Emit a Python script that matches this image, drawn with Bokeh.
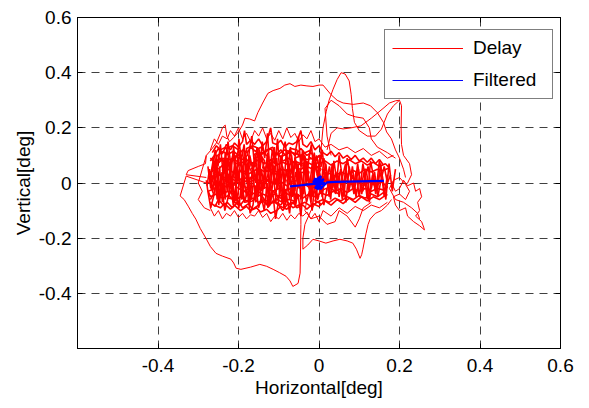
from bokeh.plotting import figure
from bokeh.models import (FixedTicker, LinearAxis, Legend, LegendItem, Range1d)
from bokeh.embed import file_html
from bokeh.resources import INLINE

# ---------------- data (degrees) ----------------
x_ticks = [-0.6, -0.4, -0.2, 0.0, 0.2, 0.4, 0.6]
x_tick_labels = ["", "-0.4", "-0.2", "0", "0.2", "0.4", "0.6"]
y_ticks = [-0.6, -0.4, -0.2, 0.0, 0.2, 0.4, 0.6]
y_tick_labels = ["", "-0.4", "-0.2", "0", "0.2", "0.4", "0.6"]

# Delay trace, pieces of one trajectory (dense core)
core_a = [(-0.27,0.02),(-0.262,0.09),(-0.255,-0.04),(-0.247,0.06),(-0.24,-0.07),(-0.233,0.11),(-0.224,0.0),(-0.219,0.08),(-0.21,-0.06),(-0.203,0.04),(-0.196,0.12),(-0.188,-0.03),(-0.181,0.07),(-0.172,-0.08),(-0.166,0.03),(-0.158,0.1),(-0.151,-0.05),(-0.143,0.05),(-0.136,-0.02),(-0.128,0.11),(-0.121,-0.07),(-0.113,0.02),(-0.105,0.09),(-0.098,-0.04),(-0.09,0.06),(-0.083,-0.08),(-0.075,0.04),(-0.068,0.1),(-0.06,-0.03),(-0.052,0.07),(-0.045,-0.06),(-0.037,0.03),(-0.03,0.08),(-0.022,-0.05),(-0.015,0.05),(-0.007,-0.02),(0.0,0.06),(0.008,-0.05),(0.016,0.04),(0.024,-0.03),(0.033,0.07),(0.041,-0.04),(0.05,0.03),(0.058,-0.06),(0.066,0.05),(0.075,-0.02),(0.083,0.06),(0.092,-0.05),(0.1,0.02),(0.109,-0.03),(0.117,0.05),(0.126,-0.04),(0.134,0.03),(0.143,-0.02),(0.151,0.04),(0.16,-0.01)]
core_b = [(0.17,0.03),(0.162,-0.05),(0.153,0.07),(0.145,-0.03),(0.137,0.01),(0.128,0.08),(0.12,-0.06),(0.112,0.04),(0.104,-0.02),(0.096,0.07),(0.087,-0.04),(0.079,0.02),(0.07,0.09),(0.062,-0.05),(0.054,0.05),(0.046,-0.01),(0.037,0.08),(0.029,-0.06),(0.021,0.03),(0.012,0.09),(0.004,-0.04),(-0.004,0.04),(-0.012,0.11),(-0.02,-0.07),(-0.027,0.02),(-0.035,0.1),(-0.043,-0.05),(-0.05,0.05),(-0.058,-0.08),(-0.066,0.08),(-0.073,0.0),(-0.081,0.12),(-0.089,-0.06),(-0.096,0.04),(-0.104,-0.02),(-0.111,0.13),(-0.119,0.01),(-0.127,-0.09),(-0.134,0.06),(-0.142,-0.03),(-0.149,0.12),(-0.157,-0.07),(-0.165,0.05),(-0.172,0.1),(-0.18,-0.05),(-0.187,0.02),(-0.195,0.09),(-0.203,-0.08),(-0.21,0.06),(-0.218,-0.02),(-0.225,0.1),(-0.233,-0.06),(-0.241,0.04),(-0.249,-0.08),(-0.256,0.07),(-0.264,-0.03),(-0.272,0.05),(-0.278,-0.01)]
core_c = [(-0.265,0.04),(-0.258,0.12),(-0.251,0.06),(-0.245,0.14),(-0.238,0.03),(-0.231,0.1),(-0.226,0.15),(-0.218,0.05),(-0.212,0.13),(-0.205,0.02),(-0.199,0.16),(-0.193,0.08),(-0.186,0.14),(-0.179,0.01),(-0.173,0.12),(-0.167,0.17),(-0.16,0.06),(-0.154,0.13),(-0.148,0.03),(-0.141,0.15),(-0.135,0.09),(-0.128,0.18),(-0.122,0.04),(-0.116,0.12),(-0.109,0.07),(-0.103,0.16),(-0.097,0.02),(-0.09,0.11),(-0.084,0.15),(-0.077,0.05),(-0.071,0.13),(-0.064,0.01),(-0.058,0.12),(-0.051,0.17),(-0.045,0.06),(-0.038,0.11),(-0.032,0.0),(-0.025,0.09),(-0.019,0.14),(-0.012,0.03),(-0.006,0.1),(0.001,0.05),(0.008,0.12),(0.015,0.02)]
core_d = [(0.02,-0.02),(0.012,-0.08),(0.005,-0.01),(-0.003,-0.06),(-0.01,0.01),(-0.017,-0.1),(-0.024,-0.03),(-0.031,-0.07),(-0.038,0.0),(-0.045,-0.12),(-0.052,-0.04),(-0.059,-0.08),(-0.066,-0.01),(-0.073,-0.11),(-0.08,-0.05),(-0.087,-0.09),(-0.094,0.01),(-0.101,-0.07),(-0.108,-0.13),(-0.115,-0.03),(-0.122,-0.08),(-0.129,0.0),(-0.136,-0.1),(-0.143,-0.05),(-0.15,-0.09),(-0.157,-0.01),(-0.164,-0.08),(-0.171,-0.11),(-0.178,-0.03),(-0.185,-0.07),(-0.192,0.01),(-0.199,-0.09),(-0.206,-0.04),(-0.213,-0.08),(-0.22,0.0),(-0.227,-0.06),(-0.234,-0.1),(-0.241,-0.02),(-0.248,-0.07),(-0.255,0.01),(-0.262,-0.05),(-0.269,-0.09),(-0.276,-0.03),(-0.28,0.01)]
core_e = [(-0.276,0.06),(-0.269,-0.02),(-0.262,0.03),(-0.255,0.1),(-0.248,-0.05),(-0.241,0.02),(-0.234,0.08),(-0.227,-0.03),(-0.22,0.05),(-0.213,0.11),(-0.206,-0.01),(-0.199,0.04),(-0.192,-0.06),(-0.185,0.09),(-0.178,0.03),(-0.171,-0.04),(-0.164,0.07),(-0.157,0.0),(-0.15,0.05),(-0.143,-0.07),(-0.136,0.02),(-0.129,0.08),(-0.122,-0.02),(-0.115,0.06),(-0.108,-0.05),(-0.101,0.03),(-0.094,0.1),(-0.087,-0.01),(-0.08,0.05),(-0.073,-0.06),(-0.066,0.02),(-0.059,0.09),(-0.052,0.0),(-0.045,0.04),(-0.038,-0.04),(-0.031,0.06),(-0.024,0.01),(-0.017,-0.05),(-0.01,0.07),(-0.003,0.02),(0.004,-0.03),(0.011,0.05),(0.018,0.0),(0.026,0.06),(0.034,-0.02),(0.042,0.04),(0.05,-0.05),(0.058,0.02),(0.066,0.07),(0.074,-0.03),(0.082,0.03),(0.09,-0.01),(0.098,0.05),(0.106,-0.04),(0.114,0.02),(0.122,0.06),(0.13,-0.02),(0.138,0.04),(0.146,-0.05),(0.154,0.01),(0.162,0.06),(0.17,0.0),(0.178,0.03)]
core_f = [(0.19,0.05),(0.182,-0.03),(0.174,0.07),(0.166,-0.06),(0.158,0.02),(0.15,0.08),(0.141,-0.04),(0.133,0.03),(0.125,-0.07),(0.117,0.01),(0.109,0.07),(0.1,-0.05),(0.092,0.04),(0.084,-0.02),(0.075,0.06),(0.067,-0.07),(0.059,0.01),(0.05,0.1),(0.042,-0.03),(0.034,0.05),(0.025,-0.05),(0.017,0.07),(0.009,-0.01),(0.0,0.04),(-0.008,-0.06),(-0.016,0.08),(-0.024,-0.02),(-0.033,0.05),(-0.041,0.12),(-0.049,-0.02),(-0.058,0.04),(-0.066,-0.05),(-0.075,0.07),(-0.083,0.02),(-0.092,-0.07),(-0.1,0.05),(-0.109,0.0),(-0.117,0.09),(-0.126,-0.04),(-0.134,0.03),(-0.143,0.1),(-0.151,-0.02),(-0.16,0.04),(-0.168,-0.06),(-0.177,0.06),(-0.185,0.12),(-0.194,-0.02),(-0.202,0.05),(-0.211,-0.07),(-0.219,0.03),(-0.228,0.09),(-0.236,-0.04),(-0.245,0.02),(-0.253,-0.06),(-0.262,0.08),(-0.27,0.0)]
walk_1 = [(-0.25,0.05),(-0.235,0.07),(-0.24,0.09),(-0.22,0.085),(-0.205,0.1),(-0.21,0.075),(-0.19,0.06),(-0.195,0.04),(-0.175,0.045),(-0.17,0.07),(-0.155,0.08),(-0.16,0.105),(-0.14,0.11),(-0.125,0.095),(-0.13,0.07),(-0.11,0.06),(-0.115,0.035),(-0.095,0.03),(-0.1,0.01),(-0.12,0.0),(-0.135,0.015),(-0.15,0.0),(-0.165,0.02),(-0.18,0.005),(-0.2,0.015),(-0.215,-0.005),(-0.23,0.01),(-0.245,-0.01),(-0.26,0.005),(-0.255,-0.02),(-0.24,-0.035),(-0.22,-0.03),(-0.225,-0.055),(-0.205,-0.06),(-0.19,-0.045),(-0.185,-0.07),(-0.165,-0.065),(-0.155,-0.04),(-0.14,-0.05),(-0.13,-0.075),(-0.11,-0.07),(-0.1,-0.045),(-0.08,-0.05),(-0.085,-0.025),(-0.065,-0.02),(-0.07,0.005),(-0.05,0.01),(-0.055,0.035),(-0.035,0.04),(-0.04,0.065),(-0.06,0.07),(-0.075,0.09),(-0.09,0.08),(-0.1,0.105),(-0.085,0.12),(-0.065,0.11),(-0.045,0.1),(-0.03,0.085),(-0.015,0.09),(-0.01,0.065),(0.005,0.05),(-0.005,0.03),(0.01,0.015),(0.0,-0.005)]
walk_2 = [(-0.27,-0.06),(-0.262,-0.04),(-0.268,-0.015),(-0.255,0.0),(-0.265,0.025),(-0.25,0.035),(-0.258,0.06),(-0.245,0.08),(-0.252,0.1),(-0.238,0.115),(-0.225,0.1),(-0.23,0.125),(-0.215,0.135),(-0.2,0.12),(-0.205,0.095),(-0.19,0.085),(-0.178,0.1),(-0.18,0.125),(-0.165,0.135),(-0.15,0.125),(-0.145,0.1),(-0.13,0.12),(-0.115,0.13),(-0.11,0.11),(-0.095,0.095),(-0.08,0.105),(-0.07,0.125),(-0.055,0.12),(-0.05,0.095),(-0.035,0.11),(-0.02,0.12),(-0.025,0.095),(-0.01,0.08),(0.0,0.1),(0.01,0.085),(0.005,0.06),(-0.015,0.05),(-0.03,0.06),(-0.045,0.05),(-0.06,0.055),(-0.075,0.04),(-0.09,0.05),(-0.105,0.04),(-0.12,0.05),(-0.135,0.04),(-0.15,0.055),(-0.165,0.04),(-0.18,0.03),(-0.195,0.045),(-0.21,0.035),(-0.225,0.05),(-0.24,0.03),(-0.235,0.01),(-0.22,0.02),(-0.205,0.005),(-0.19,-0.01),(-0.175,-0.02),(-0.16,-0.01),(-0.145,-0.025),(-0.13,-0.015),(-0.115,-0.03),(-0.1,-0.02),(-0.085,-0.035),(-0.07,-0.045),(-0.055,-0.04),(-0.04,-0.055),(-0.025,-0.04),(-0.01,-0.05),(0.005,-0.035),(0.02,-0.045),(0.035,-0.03),(0.05,-0.04)]
walk_3 = [(-0.26,-0.08),(-0.245,-0.09),(-0.235,-0.075),(-0.22,-0.095),(-0.21,-0.08),(-0.195,-0.1),(-0.18,-0.085),(-0.17,-0.1),(-0.155,-0.09),(-0.145,-0.105),(-0.13,-0.095),(-0.12,-0.11),(-0.105,-0.1),(-0.095,-0.085),(-0.08,-0.095),(-0.07,-0.08),(-0.06,-0.065),(-0.075,-0.06),(-0.09,-0.07),(-0.105,-0.06),(-0.12,-0.075),(-0.135,-0.06),(-0.15,-0.07),(-0.165,-0.055),(-0.18,-0.065),(-0.195,-0.05),(-0.21,-0.065),(-0.225,-0.045),(-0.24,-0.055),(-0.255,-0.04),(-0.27,-0.05),(-0.275,-0.03),(-0.26,-0.02),(-0.245,0.0),(-0.23,-0.015),(-0.215,0.0),(-0.2,-0.02),(-0.185,-0.03),(-0.17,-0.045),(-0.155,-0.03),(-0.14,-0.04),(-0.125,-0.05),(-0.11,-0.04),(-0.095,-0.055),(-0.08,-0.065),(-0.065,-0.09),(-0.05,-0.08),(-0.035,-0.07),(-0.02,-0.085),(-0.005,-0.07),(0.01,-0.06),(0.025,-0.07),(0.04,-0.055),(0.055,-0.065),(0.07,-0.05),(0.085,-0.06),(0.1,-0.045),(0.115,-0.055),(0.13,-0.04),(0.145,-0.05),(0.16,-0.035),(0.17,-0.045)]
walk_4 = [(0.0,0.07),(0.015,0.08),(0.03,0.065),(0.045,0.08),(0.06,0.07),(0.075,0.085),(0.09,0.07),(0.105,0.08),(0.12,0.065),(0.135,0.075),(0.15,0.06),(0.165,0.07),(0.175,0.055),(0.16,0.045),(0.145,0.05),(0.13,0.04),(0.115,0.05),(0.1,0.035),(0.085,0.045),(0.07,0.03),(0.055,0.04),(0.04,0.025),(0.025,0.035),(0.01,0.02),(0.02,0.005),(0.035,0.015),(0.05,0.0),(0.065,0.01),(0.08,-0.005),(0.095,0.01),(0.11,-0.01),(0.125,0.005),(0.14,-0.01),(0.155,0.005),(0.17,-0.015),(0.16,-0.025),(0.145,-0.02),(0.13,-0.03),(0.115,-0.02),(0.1,-0.03),(0.085,-0.02),(0.07,-0.035),(0.055,-0.02),(0.04,-0.03),(0.025,-0.015),(0.01,-0.025),(-0.005,-0.01),(-0.02,-0.02),(-0.035,-0.005),(-0.05,-0.015),(-0.065,0.0),(-0.08,-0.01),(-0.095,0.005),(-0.11,-0.005),(-0.125,0.01),(-0.14,0.0),(-0.155,0.015),(-0.17,0.005),(-0.185,0.02),(-0.2,0.01),(-0.215,0.025),(-0.23,0.015),(-0.245,0.03),(-0.26,0.02)]
walk_5 = [(-0.27,0.08),(-0.26,0.1),(-0.25,0.125),(-0.24,0.105),(-0.23,0.14),(-0.22,0.12),(-0.21,0.145),(-0.2,0.13),(-0.19,0.15),(-0.185,0.19),(-0.18,0.14),(-0.17,0.155),(-0.16,0.14),(-0.15,0.16),(-0.14,0.135),(-0.13,0.15),(-0.12,0.2),(-0.115,0.145),(-0.105,0.14),(-0.095,0.155),(-0.085,0.13),(-0.075,0.145),(-0.065,0.14),(-0.055,0.15),(-0.045,0.19),(-0.04,0.14),(-0.03,0.13),(-0.02,0.15),(-0.01,0.12),(0.0,0.135),(0.01,0.11),(0.02,0.1),(0.03,0.115),(0.04,0.095),(0.05,0.11),(0.06,0.09),(0.07,0.1),(0.08,0.085),(0.09,0.1),(0.1,0.08),(0.11,0.09),(0.12,0.075),(0.13,0.09),(0.14,0.07),(0.15,0.085),(0.16,0.065)]
walk_6 = [(-0.275,0.0),(-0.265,0.015),(-0.27,0.04),(-0.255,0.05),(-0.26,0.075),(-0.245,0.09),(-0.235,0.07),(-0.24,0.045),(-0.225,0.03),(-0.23,0.005),(-0.215,-0.01),(-0.22,-0.035),(-0.205,-0.045),(-0.21,-0.07),(-0.195,-0.08),(-0.185,-0.06),(-0.19,-0.035),(-0.175,-0.02),(-0.18,0.01),(-0.165,0.025),(-0.17,0.05),(-0.155,0.065),(-0.16,0.09),(-0.145,0.1),(-0.135,0.08),(-0.14,0.055),(-0.125,0.04),(-0.13,0.015),(-0.115,0.0),(-0.12,-0.025),(-0.105,-0.04),(-0.11,-0.065),(-0.095,-0.08),(-0.085,-0.06),(-0.09,-0.035),(-0.075,-0.02),(-0.08,0.01),(-0.065,0.025),(-0.07,0.05),(-0.055,0.065),(-0.06,0.09),(-0.045,0.1),(-0.035,0.08),(-0.04,0.055),(-0.025,0.04),(-0.03,0.015),(-0.015,0.0),(-0.02,-0.025),(-0.005,-0.04),(-0.01,-0.065),(0.005,-0.075)]
walk_7 = [(-0.265,0.11),(-0.255,0.135),(-0.245,0.12),(-0.232,0.13),(-0.225,0.105),(-0.212,0.115),(-0.2,0.1),(-0.19,0.12),(-0.178,0.11),(-0.17,0.13),(-0.158,0.115),(-0.145,0.13),(-0.135,0.11),(-0.12,0.125),(-0.108,0.1),(-0.095,0.12),(-0.083,0.1),(-0.07,0.115),(-0.06,0.1),(-0.045,0.125),(-0.03,0.1),(-0.02,0.11),(-0.008,0.09),(0.005,0.1),(0.0,0.075),(-0.015,0.065),(-0.03,0.075),(-0.045,0.07),(-0.06,0.08),(-0.075,0.065),(-0.09,0.075),(-0.105,0.065),(-0.12,0.085),(-0.135,0.07),(-0.15,0.085),(-0.165,0.07),(-0.18,0.085),(-0.195,0.07),(-0.21,0.085),(-0.225,0.07),(-0.24,0.085),(-0.255,0.07),(-0.27,0.09)]
walk_8 = [(-0.27,-0.07),(-0.258,-0.085),(-0.25,-0.06),(-0.238,-0.08),(-0.228,-0.07),(-0.215,-0.09),(-0.2,-0.065),(-0.19,-0.09),(-0.175,-0.075),(-0.165,-0.095),(-0.15,-0.08),(-0.14,-0.065),(-0.125,-0.085),(-0.115,-0.065),(-0.1,-0.08),(-0.09,-0.1),(-0.08,-0.08),(-0.065,-0.07),(-0.055,-0.09),(-0.04,-0.08),(-0.03,-0.095),(-0.015,-0.075),(0.0,-0.085),(0.015,-0.065),(0.03,-0.08),(0.045,-0.06),(0.06,-0.075),(0.075,-0.055),(0.09,-0.07),(0.105,-0.05),(0.12,-0.065),(0.135,-0.05),(0.15,-0.06),(0.165,-0.045)]

# Delay trace, ragged edges of the core and outer excursions
fringe_top = [(-0.27,0.12),(-0.26,0.16),(-0.25,0.14),(-0.24,0.17),(-0.228,0.16),(-0.22,0.19),(-0.21,0.17),(-0.2,0.2),(-0.19,0.16),(-0.18,0.18),(-0.17,0.15),(-0.16,0.19),(-0.15,0.17),(-0.14,0.2),(-0.13,0.16),(-0.12,0.18),(-0.11,0.155),(-0.1,0.19),(-0.09,0.16),(-0.08,0.2),(-0.07,0.165),(-0.06,0.18),(-0.05,0.15),(-0.04,0.175),(-0.03,0.16),(-0.02,0.19),(-0.01,0.15),(0.0,0.16),(0.015,0.13),(0.03,0.14),(0.05,0.12),(0.07,0.13),(0.09,0.11),(0.11,0.125),(0.13,0.1),(0.15,0.115),(0.17,0.09),(0.185,0.1)]
fringe_bottom = [(-0.27,-0.09),(-0.26,-0.12),(-0.25,-0.1),(-0.24,-0.13),(-0.23,-0.11),(-0.22,-0.12),(-0.21,-0.1),(-0.2,-0.125),(-0.19,-0.11),(-0.18,-0.13),(-0.17,-0.115),(-0.16,-0.12),(-0.15,-0.1),(-0.14,-0.125),(-0.13,-0.11),(-0.12,-0.14),(-0.11,-0.12),(-0.1,-0.13),(-0.09,-0.11),(-0.08,-0.135),(-0.07,-0.115),(-0.06,-0.13),(-0.05,-0.11),(-0.04,-0.12),(-0.03,-0.105),(-0.02,-0.13),(-0.01,-0.11),(0.0,-0.14),(0.01,-0.1),(0.03,-0.12),(0.05,-0.09),(0.07,-0.11),(0.09,-0.085),(0.11,-0.1),(0.13,-0.08),(0.15,-0.09),(0.17,-0.07)]
fringe_left = [(-0.28,0.1),(-0.29,0.05),(-0.3,0.0),(-0.29,-0.03),(-0.3,-0.06),(-0.285,-0.09),(-0.27,-0.1)]
loop_top = [(-0.28,0.02),(-0.33,0.03),(-0.325,0.045),(-0.3,0.06),(-0.282,0.07),(-0.28,0.1),(-0.268,0.12),(-0.255,0.145),(-0.245,0.18),(-0.24,0.2),(-0.233,0.21),(-0.229,0.17),(-0.222,0.15),(-0.212,0.165),(-0.2,0.185),(-0.19,0.21),(-0.184,0.235),(-0.172,0.232),(-0.16,0.225),(-0.152,0.255),(-0.14,0.29),(-0.127,0.325),(-0.114,0.335),(-0.097,0.343),(-0.085,0.355),(-0.072,0.36),(-0.06,0.35),(-0.045,0.355),(-0.03,0.352),(-0.015,0.35),(0.0,0.355),(0.01,0.355),(0.03,0.32),(0.045,0.3),(0.06,0.29),(0.085,0.285),(0.11,0.29),(0.128,0.28),(0.145,0.255),(0.16,0.22),(0.168,0.185),(0.18,0.16),(0.19,0.12),(0.2,0.09),(0.21,0.05),(0.215,0.02)]
spike_top = [(0.0,0.08),(0.005,0.12),(0.01,0.2),(0.018,0.26),(0.025,0.3),(0.035,0.34),(0.045,0.375),(0.055,0.4),(0.065,0.395),(0.075,0.37),(0.08,0.32),(0.083,0.27),(0.088,0.22),(0.1,0.19),(0.12,0.17),(0.14,0.17),(0.155,0.195),(0.17,0.25),(0.185,0.28),(0.2,0.3),(0.205,0.28),(0.204,0.2),(0.205,0.14),(0.21,0.1),(0.225,0.07),(0.23,0.03),(0.22,0.0)]
cross_top = [(0.02,0.12),(0.03,0.18),(0.045,0.2),(0.06,0.196),(0.08,0.2),(0.104,0.207),(0.13,0.235),(0.159,0.27),(0.175,0.29),(0.19,0.298),(0.2,0.3)]
loop_top_2 = [(0.03,0.1),(0.02,0.17),(0.015,0.27),(0.03,0.3),(0.05,0.28),(0.07,0.25),(0.09,0.24),(0.11,0.235),(0.125,0.2),(0.13,0.16),(0.145,0.13),(0.17,0.11),(0.19,0.09)]
loop_bottom = [(-0.28,0.0),(-0.33,0.025),(-0.345,-0.047),(-0.335,-0.06),(-0.325,-0.084),(-0.315,-0.11),(-0.306,-0.131),(-0.295,-0.165),(-0.281,-0.2),(-0.27,-0.23),(-0.256,-0.255),(-0.24,-0.265),(-0.219,-0.276),(-0.212,-0.29),(-0.206,-0.309),(-0.194,-0.313),(-0.17,-0.305),(-0.147,-0.295),(-0.13,-0.302),(-0.114,-0.313),(-0.098,-0.325),(-0.082,-0.338),(-0.072,-0.355),(-0.065,-0.375),(-0.052,-0.364),(-0.047,-0.327),(-0.046,-0.25),(-0.045,-0.15),(-0.045,-0.05)]
bottom_right = [(0.0,-0.05),(-0.02,-0.1),(-0.035,-0.15),(-0.04,-0.2),(-0.04,-0.24),(-0.028,-0.225),(-0.015,-0.204),(0.0,-0.21),(0.017,-0.218),(0.035,-0.21),(0.052,-0.204),(0.07,-0.21),(0.084,-0.218),(0.093,-0.24),(0.102,-0.273),(0.106,-0.26),(0.109,-0.24),(0.113,-0.21),(0.117,-0.182),(0.122,-0.15),(0.127,-0.131),(0.14,-0.11),(0.155,-0.1),(0.17,-0.08),(0.18,-0.06)]
under_core = [(-0.03,-0.06),(-0.035,-0.1),(-0.02,-0.13),(0.0,-0.12),(0.02,-0.15),(0.04,-0.14),(0.05,-0.1),(0.07,-0.12),(0.09,-0.16),(0.1,-0.13),(0.11,-0.09),(0.13,-0.07)]
right_blob = [(0.18,0.0),(0.19,-0.03),(0.2,-0.02),(0.21,0.01),(0.22,-0.01),(0.235,0.0),(0.24,-0.03),(0.25,-0.02),(0.255,-0.05),(0.245,-0.07),(0.25,-0.1),(0.24,-0.12),(0.255,-0.14),(0.26,-0.16),(0.262,-0.17),(0.25,-0.155),(0.235,-0.14),(0.22,-0.12),(0.215,-0.09),(0.2,-0.1),(0.19,-0.08),(0.185,-0.05),(0.2,-0.04),(0.215,-0.06),(0.225,-0.03),(0.215,-0.005),(0.2,0.02),(0.185,0.01),(0.175,-0.02),(0.19,-0.06),(0.21,-0.07),(0.23,-0.09),(0.245,-0.11),(0.25,-0.13)]

# Filtered trace
filtered = [(-0.072,-0.012),(-0.05,-0.009),(-0.03,-0.006),(-0.012,-0.003),(0.0,0.0),(0.012,0.015),(-0.01,-0.018),(0.008,-0.02),(-0.012,0.016),(0.014,-0.005),(-0.015,0.004),(0.005,0.025),(-0.004,-0.025),(0.01,0.01),(-0.008,-0.01),(0.015,0.0),(-0.014,-0.002),(0.0,0.02),(0.002,-0.022),(0.02,0.002),(0.04,0.004),(0.07,0.005),(0.1,0.006),(0.13,0.007),(0.161,0.008)]

core_pieces = [core_a, core_b, core_c, core_d, core_e, core_f,
               walk_1, walk_2, walk_3, walk_4, walk_5, walk_6, walk_7, walk_8]
outer_pieces = [fringe_top, fringe_bottom, fringe_left, loop_top, spike_top,
                cross_top, loop_top_2, loop_bottom, bottom_right, under_core, right_blob]

FONT = "Liberation Sans"
W, H = 585, 405

p = figure(width=W, height=H, output_backend="svg", toolbar_location=None,
           x_range=Range1d(-0.6, 0.6), y_range=Range1d(-0.6, 0.6),
           min_border_left=77, min_border_right=W - 560, min_border_top=17,
           min_border_bottom=H - 348)
p.background_fill_color = "white"
p.border_fill_color = "white"
p.outline_line_color = "black"
p.outline_line_width = 1

red = "#ff0000"
blue = "#0000ff"
p.multi_line([[pt[0] for pt in s] for s in outer_pieces],
             [[pt[1] for pt in s] for s in outer_pieces],
             line_color=red, line_width=1)
p.multi_line([[pt[0] for pt in s] for s in core_pieces],
             [[pt[1] for pt in s] for s in core_pieces],
             line_color=red, line_width=1.6)
p.line([pt[0] for pt in filtered], [pt[1] for pt in filtered], line_color=blue, line_width=2.2)

# axes
xt = FixedTicker(ticks=x_ticks)
yt = FixedTicker(ticks=y_ticks)
for ax, tk, labs in ((p.xaxis[0], xt, x_tick_labels), (p.yaxis[0], yt, y_tick_labels)):
    ax.ticker = tk
    ax.major_label_overrides = {t: l for t, l in zip(tk.ticks, labs)}
    ax.minor_tick_line_color = None
    ax.major_tick_in = 5
    ax.major_tick_out = 0
    ax.axis_line_color = "black"
    ax.major_tick_line_color = "black"
    ax.major_label_text_font = FONT
    ax.major_label_text_font_size = "19px"
    ax.major_label_text_color = "black"
    ax.axis_label_text_font = FONT
    ax.axis_label_text_font_size = "19px"
    ax.axis_label_text_font_style = "normal"
    ax.axis_label_text_color = "black"

p.xaxis.axis_label = "Horizontal[deg]"
p.yaxis.axis_label = "Vertical[deg]"
p.xaxis.major_label_standoff = 10
p.xaxis.axis_label_standoff = 2
p.yaxis.major_label_standoff = 6
p.yaxis.axis_label_standoff = 2

for side, tk in (("right", yt), ("above", xt)):
    a = LinearAxis(ticker=tk, major_label_text_font_size="0px", major_label_standoff=0,
                   major_tick_in=5, major_tick_out=0, minor_tick_line_color=None,
                   axis_line_color="black", major_tick_line_color="black")
    a.major_label_overrides = {t: "" for t in tk.ticks}
    p.add_layout(a, side)

# grid
for g, tk in ((p.xgrid[0], xt), (p.ygrid[0], yt)):
    g.ticker = tk
    g.grid_line_color = "black"
    g.grid_line_alpha = 0.75
    g.grid_line_width = 1
    g.grid_line_dash = "8 6"

# legend (single-point lines: draw nothing in the plot, only legend glyphs)
r_delay = p.line([core_a[0][0]], [core_a[0][1]], line_color=red, line_width=1)
r_filt = p.line([filtered[0][0]], [filtered[0][1]], line_color=blue, line_width=1)
leg = Legend(items=[LegendItem(label="Delay", renderers=[r_delay]),
                    LegendItem(label="Filtered", renderers=[r_filt])],
             location=(307, 249))
leg.margin = 0
leg.padding = 7
leg.spacing = 10
leg.glyph_width = 71
leg.glyph_height = 16
leg.label_standoff = 10
leg.label_width = 72
leg.label_text_font = FONT
leg.label_text_font_size = "19px"
leg.label_text_color = "black"
leg.border_line_color = "black"
leg.border_line_width = 1
leg.background_fill_color = "white"
leg.background_fill_alpha = 1
p.add_layout(leg)

open("out.html", "w").write(file_html(p, INLINE))
